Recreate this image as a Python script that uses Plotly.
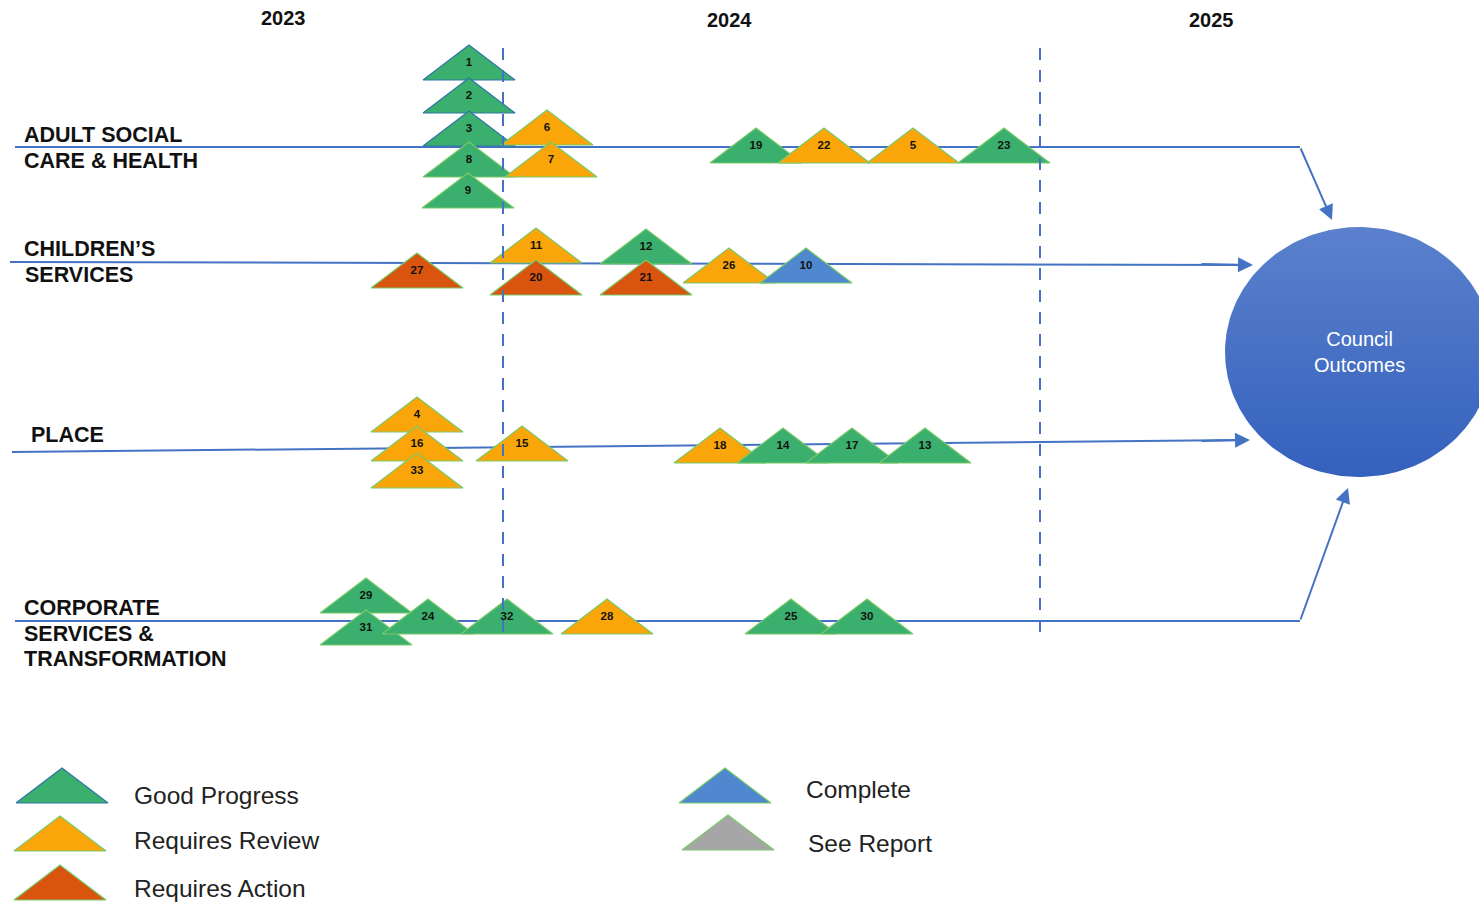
import numpy as np
import plotly.graph_objects as go

# ---------------- data ----------------
YEAR_LABELS = ["2023", "2024", "2025"]
YEAR_X = [283, 729, 1211]
YEAR_Y = [18, 20, 20]

ROW_TEXT = ["ADULT SOCIAL", "CARE & HEALTH", "CHILDREN’S", "SERVICES", "PLACE",
            "CORPORATE", "SERVICES &", "TRANSFORMATION"]
ROW_TEXT_X = [25, 25, 25, 26, 32, 25, 25, 25]
ROW_TEXT_Y = [135, 161, 249, 275, 435, 608, 634, 659]

ITEM_ID = [1, 2, 3, 8, 9, 6, 7, 19, 22, 5, 23,
           27, 11, 20, 12, 21, 26, 10,
           4, 16, 33, 15, 18, 14, 17, 13,
           29, 31, 24, 32, 28, 25, 30]
ITEM_STATUS = ["Good Progress", "Good Progress", "Good Progress", "Good Progress", "Good Progress",
               "Requires Review", "Requires Review", "Good Progress", "Requires Review",
               "Requires Review", "Good Progress",
               "Requires Action", "Requires Review", "Requires Action", "Good Progress",
               "Requires Action", "Requires Review", "Complete",
               "Requires Review", "Requires Review", "Requires Review", "Requires Review",
               "Requires Review", "Good Progress", "Good Progress", "Good Progress",
               "Good Progress", "Good Progress", "Good Progress", "Good Progress",
               "Requires Review", "Good Progress", "Good Progress"]
ITEM_X = [469, 469, 469, 469, 468, 547, 551, 756, 824, 913, 1004,
          417, 536, 536, 646, 646, 729, 806,
          417, 417, 417, 522, 720, 783, 852, 925,
          366, 366, 428, 507, 607, 791, 867]
ITEM_BASE_Y = [80, 113, 146, 177, 208, 145, 177, 163, 163, 163, 163,
               288, 263, 295, 264, 295, 283, 283,
               432, 461, 488, 461, 463, 463, 463, 463,
               613, 645, 634, 634, 634, 634, 634]

LEGEND_STATUS = ["Good Progress", "Requires Review", "Requires Action", "Complete", "See Report"]
LEGEND_TRI_X = [62, 60, 60, 725, 728]
LEGEND_TRI_BASE = [803, 851, 900, 803, 850]
LEGEND_TEXT_X = [135, 135, 135, 807, 809]
LEGEND_TEXT_Y = [795, 840, 888, 789, 843]

HUB_LABEL = "Council<br>Outcomes"

# ---------------- styles ----------------
W, H = 1479, 902
TRI_W, TRI_H = 92, 35
FILL = {"Good Progress": "#3BAF6D", "Requires Review": "#FAA60A",
        "Requires Action": "#D9540E", "Complete": "#5088D0", "See Report": "#A6A6A6"}
EDGE = "#79C96A"
BLUE_EDGE_IDS = {1, 2, 3}
BLUE_EDGE = "#2E76A6"
LINE = "#4472C4"
FONT = "Liberation Sans, Arial, sans-serif"
TEXT_PAD = 2  # annotation inner padding compensation

fig = go.Figure()


def tri(cx, base, status, edge):
    xs = [cx - TRI_W / 2, cx, cx + TRI_W / 2, cx - TRI_W / 2]
    ys = [base, base - TRI_H, base, base]
    fig.add_trace(go.Scatter(x=xs, y=ys, mode="lines", fill="toself",
                             fillcolor=FILL[status], line=dict(color=edge, width=1.2),
                             hoverinfo="skip", showlegend=False))


# hub ellipse
cx_h, cy_h, rx_h, ry_h = 1359, 352, 134, 125
t = np.linspace(0, 2 * np.pi, 200)
fig.add_trace(go.Scatter(x=cx_h + rx_h * np.cos(t), y=cy_h + ry_h * np.sin(t),
                         mode="lines", fill="toself", line=dict(width=0, color="#4472C4"),
                         fillgradient=dict(type="vertical",
                                           colorscale=[[0, "#5B81CD"], [1, "#3461BD"]],
                                           start=cy_h - ry_h, stop=cy_h + ry_h),
                         hoverinfo="skip", showlegend=False))

for i, cx, base, st in zip(ITEM_ID, ITEM_X, ITEM_BASE_Y, ITEM_STATUS):
    tri(cx, base, st, BLUE_EDGE if i in BLUE_EDGE_IDS else EDGE)

fig.add_trace(go.Scatter(x=ITEM_X, y=[b - 17 for b in ITEM_BASE_Y], mode="text",
                         text=[str(i) for i in ITEM_ID],
                         textfont=dict(family=FONT, size=11.5, color="#111111", weight="bold"),
                         hoverinfo="skip", showlegend=False))

for st, lx, lb in zip(LEGEND_STATUS, LEGEND_TRI_X, LEGEND_TRI_BASE):
    tri(lx, lb, st, BLUE_EDGE if st == "Good Progress" else EDGE)

shapes = []
# row lines
row_lines = [((15, 147), (1300, 147)), ((10, 262), (1245, 265)),
             ((12, 452), (1242, 440)), ((15, 621), (1300, 621))]
for (x0, y0), (x1, y1) in row_lines:
    shapes.append(dict(type="line", x0=x0, y0=y0, x1=x1, y1=y1, xref="x", yref="y",
                       line=dict(color=LINE, width=2), layer="below"))
# dashed year separators
for xd, y1 in [(503, 640), (1040, 638)]:
    shapes.append(dict(type="line", x0=xd, y0=48, x1=xd, y1=y1, xref="x", yref="y",
                       line=dict(color=LINE, width=2, dash="12px,10px"), layer="above"))

ann = []
arrows = [((1300, 147), (1332, 220)), ((1200, 264), (1253, 265)),
          ((1200, 441), (1250, 440)), ((1300, 621), (1348, 488))]
for (ax, ay), (x, y) in arrows:
    ann.append(dict(x=x, y=y, ax=ax, ay=ay, xref="x", yref="y", axref="x", ayref="y",
                    showarrow=True, arrowhead=2, arrowsize=1.5, arrowwidth=2,
                    arrowcolor=LINE, text=""))

for s, x, y in zip(YEAR_LABELS, YEAR_X, YEAR_Y):
    ann.append(dict(x=x, y=y, text=s, showarrow=False, xanchor="center", yanchor="middle",
                    font=dict(family=FONT, size=20, color="#111111", weight="bold")))
for s, x, y in zip(ROW_TEXT, ROW_TEXT_X, ROW_TEXT_Y):
    ann.append(dict(x=x - TEXT_PAD, y=y, text=s, showarrow=False, xanchor="left",
                    yanchor="middle", borderpad=0,
                    font=dict(family=FONT, size=21.5, color="#111111", weight="bold")))
for s, x, y in zip(LEGEND_STATUS, LEGEND_TEXT_X, LEGEND_TEXT_Y):
    ann.append(dict(x=x - TEXT_PAD, y=y, text=s, showarrow=False, xanchor="left",
                    yanchor="middle", borderpad=0,
                    font=dict(family=FONT, size=24.5, color="#222222")))
ann.append(dict(x=cx_h, y=cy_h, text=HUB_LABEL, showarrow=False, xanchor="center",
                yanchor="middle", font=dict(family=FONT, size=20, color="white")))

fig.update_layout(
    width=W, height=H, margin=dict(l=0, r=0, t=0, b=0),
    paper_bgcolor="white", plot_bgcolor="white",
    xaxis=dict(range=[0, W], visible=False, fixedrange=True),
    yaxis=dict(range=[H, 0], visible=False, fixedrange=True),
    shapes=shapes, annotations=ann, showlegend=False,
)

fig.write_html("out.html", config={"displayModeBar": False},
               post_script="document.body.style.margin='0';document.body.style.overflow='hidden';")
